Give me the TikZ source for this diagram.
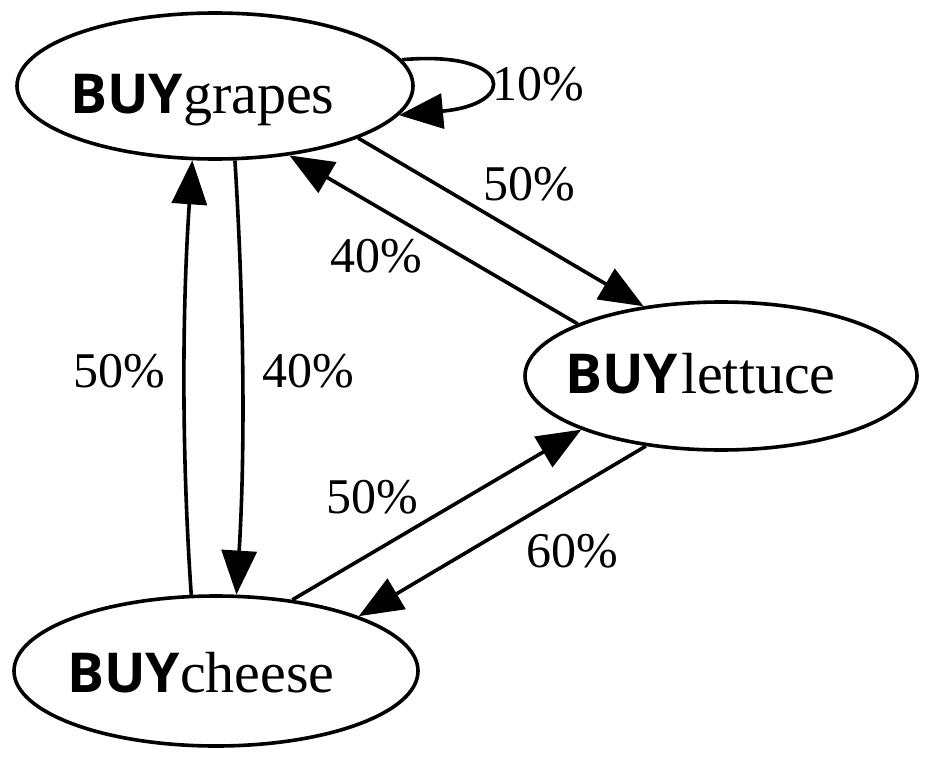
\documentclass[tikz,border=0pt]{standalone}
\usepackage{fontspec}
\setmainfont{Liberation Serif}
\newfontfamily\buyfont{Open Sans}
\usetikzlibrary{shapes.geometric,arrows.meta}
\tikzset{
  state/.style={draw, ellipse, line width=3.6pt, inner sep=0pt},
  nodetext/.style={anchor=base west, inner sep=0pt, font=\fontsize{58}{66}\selectfont},
  lbl/.style={anchor=base, inner sep=0pt, font=\fontsize{50}{58}\selectfont},
  edge/.style={line width=3.6pt, -{Triangle[length=44pt,width=35pt]}},
}
\newcommand{\buy}{{\buyfont\bfseries\fontsize{55}{62}\selectfont BUY}}
\begin{document}
\begin{tikzpicture}[x=1pt,y=-1pt]
\useasboundingbox (0,0) rectangle (927,763);
% states
\node[state, minimum width=396pt, minimum height=146pt] (g) at (215,86) {};
\node[state, minimum width=392pt, minimum height=148pt] (l) at (721,376) {};
\node[state, minimum width=404pt, minimum height=150pt] (c) at (216,671) {};
% state texts
\node[nodetext] (gt) at (70,113) {\buy grapes};
\node[nodetext] (lt) at (565,393) {\buy\hspace{3pt}lettuce};
\node[nodetext] (ct) at (67,692) {\buy cheese};
% edges
\draw[edge] (g.8) .. controls (512,50) and (520,104) .. (g.-9);
\draw[edge] (g.-20) -- (l.138);
\draw[edge] (l.160) -- (g.-43);
\draw[edge] (g.-75) .. controls +(9,146) and +(9,-146) .. (c.75);
\draw[edge] (c.108) .. controls +(-10,-146) and +(-10,146) .. (g.-107);
\draw[edge] (c.43) -- (l.-159);
\draw[edge] (l.-137) -- (c.21);
% labels
\node[lbl] (p1) at (538,100) {10\%};
\node[lbl] (p2) at (529,200) {50\%};
\node[lbl] (p3) at (376,272) {40\%};
\node[lbl] (p4) at (119,387) {50\%};
\node[lbl] (p5) at (308,387) {40\%};
\node[lbl] (p6) at (372,513) {50\%};
\node[lbl] (p7) at (572,567) {60\%};
\end{tikzpicture}
\end{document}
